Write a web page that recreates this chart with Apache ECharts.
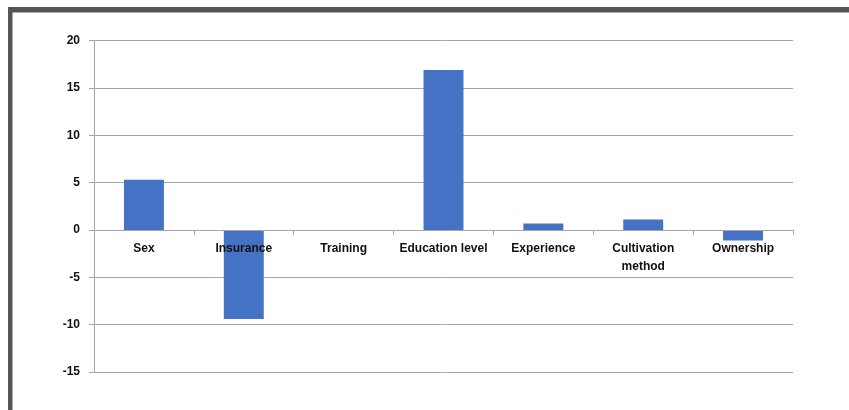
<!DOCTYPE html>
<html>
<head>
<meta charset="utf-8">
<script src="https://cdn.jsdelivr.net/npm/echarts@6/dist/echarts.min.js"></script>
<style>
  html, body { margin: 0; padding: 0; background: #fff; }
  #chart { width: 849px; height: 410px; }
</style>
</head>
<body>
<div id="chart"></div>
<script>
// Factor categories and their estimated effects
var categories = ['Sex', 'Insurance', 'Training', 'Education level', 'Experience', 'Cultivation\nmethod', 'Ownership'];
var effects = [5.3, -9.4, 0, 16.9, 0.7, 1.1, -1.1];

// Value axis range and step
var yMin = -15;
var yMax = 20;
var yStep = 5;

var gridColor = '#a6a6a6';
var labelFont = { fontFamily: 'Liberation Sans, Arial, sans-serif', fontWeight: 'bold', fontSize: 12, color: '#111' };

var chart = echarts.init(document.getElementById('chart'), null, { renderer: 'canvas' });
chart.setOption({
  animation: false,
  backgroundColor: '#ffffff',
  graphic: [
    { type: 'rect', shape: { x: 8, y: 7, width: 841, height: 5.5 }, style: { fill: '#555555' } },
    { type: 'rect', shape: { x: 8, y: 7, width: 4.5, height: 403 }, style: { fill: '#555555' } }
  ],
  grid: { left: 94, right: 56, top: 40.7, bottom: 38, containLabel: false, outerBoundsMode: 'none' },
  xAxis: {
    type: 'category',
    data: categories,
    offset: 0,
    z: 5,
    axisLine: { show: true, onZero: false, lineStyle: { color: gridColor, width: 1 } },
    axisTick: { show: true, length: 5, alignWithLabel: false, lineStyle: { color: gridColor } },
    axisLabel: Object.assign({ interval: 0, margin: 10, lineHeight: 18, hideOverlap: false }, labelFont),
    splitLine: { show: false }
  },
  yAxis: {
    type: 'value',
    min: yMin,
    max: yMax,
    interval: yStep,
    axisLine: { show: true, lineStyle: { color: gridColor, width: 1 } },
    axisTick: { show: true, length: 5, lineStyle: { color: gridColor } },
    axisLabel: Object.assign({ margin: 14 }, labelFont),
    splitLine: { show: true, lineStyle: { color: gridColor, width: 1 } }
  },
  series: [{
    type: 'bar',
    data: effects,
    barWidth: '40%',
    z: 2,
    itemStyle: { color: '#4472c4' }
  }]
});

// Move the category axis (line, ticks and labels) up to the zero level of the value axis
var zeroPx = chart.convertToPixel({ yAxisIndex: 0 }, 0);
var bottomPx = chart.convertToPixel({ yAxisIndex: 0 }, yMin);
chart.setOption({ xAxis: { offset: zeroPx - bottomPx } });
</script>
</body>
</html>
